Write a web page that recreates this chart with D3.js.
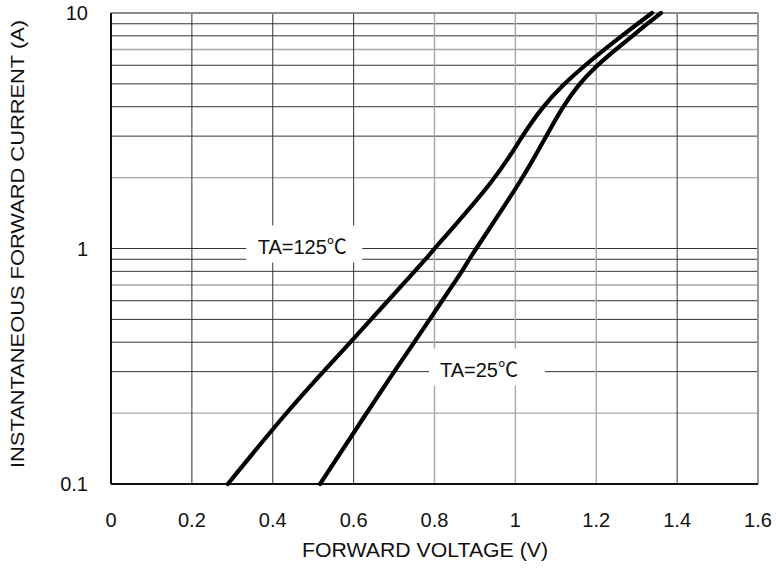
<!DOCTYPE html>
<html>
<head>
<meta charset="utf-8">
<script src="https://cdn.jsdelivr.net/npm/d3@7"></script>
<style>
    body { margin: 0; background: white; }
    text { font-family: "Liberation Sans", Arial, "Noto Sans CJK SC", sans-serif; fill: #111; }
</style>
</head>
<body>
<script>
// forward current (A) points
var current = [0.1, 0.2, 0.3, 0.4, 0.5, 0.6, 0.7, 0.8, 0.9, 1, 2, 3, 4, 5, 6, 7, 8, 9, 10]
// forward voltage (V) for each curve at those currents
var vf125 = [0.289, 0.432, 0.525, 0.592, 0.643, 0.685, 0.720, 0.751, 0.778, 0.800, 0.955, 1.016, 1.067, 1.120, 1.172, 1.220, 1.263, 1.302, 1.338]
var vf25 = [0.517, 0.632, 0.700, 0.750, 0.788, 0.819, 0.845, 0.868, 0.886, 0.903, 1.020, 1.076, 1.117, 1.157, 1.202, 1.248, 1.290, 1.326, 1.360]

var xTicks = [0, 0.2, 0.4, 0.6, 0.8, 1, 1.2, 1.4, 1.6]
var yTicks = [0.1, 1, 10]
// gridlines drawn lighter in the original
var lightX = [0.8, 1, 1.2]
var lightMult = [2, 7]

var labels = [
    {text: "TA=125\u2103", v: 0.473, i: 1},
    {text: "TA=25\u2103", v: 0.910, i: 0.3}
]

var width = 776
var height = 570

var svg = d3.select("body")
    .append("svg")
    .attr("width", width)
    .attr("height", height)

var xScale = d3.scaleLinear()
    .domain([0, 1.6])
    .range([111, 758])
var yScale = d3.scaleLog()
    .domain([0.1, 10])
    .range([484, 13])

// horizontal grid, every 1..9 of each decade
var hLines = []
for (var d = 0.1; d < 10; d *= 10) {
    for (var m = 1; m <= 10; m++) {
        hLines.push({value: +(d * m).toPrecision(3), light: lightMult.indexOf(m) >= 0})
    }
}
svg.selectAll(".hgrid")
    .data(hLines)
    .enter()
    .append("line")
    .attr("class", "hgrid")
    .attr("x1", xScale(0))
    .attr("x2", xScale(1.6))
    .attr("y1", function(d) { return yScale(d.value) })
    .attr("y2", function(d) { return yScale(d.value) })
    .style("stroke", function(d) { return d.light ? "#a8a8a8" : "#333" })
    .style("stroke-width", function(d) { return d.light ? 1.4 : 1 })

svg.selectAll(".vgrid")
    .data(xTicks.slice(1, -1))
    .enter()
    .append("line")
    .attr("class", "vgrid")
    .attr("x1", function(d) { return xScale(d) })
    .attr("x2", function(d) { return xScale(d) })
    .attr("y1", yScale(10))
    .attr("y2", yScale(0.1))
    .style("stroke", function(d) { return lightX.indexOf(d) >= 0 ? "#a8a8a8" : "#333" })
    .style("stroke-width", function(d) { return lightX.indexOf(d) >= 0 ? 1.4 : 1 })

// frame: grey top and right, black axes
svg.append("line")
    .attr("x1", xScale(0)).attr("x2", xScale(1.6))
    .attr("y1", yScale(10)).attr("y2", yScale(10))
    .style("stroke", "#8a8a8a").style("stroke-width", 2)
svg.append("line")
    .attr("x1", xScale(1.6)).attr("x2", xScale(1.6))
    .attr("y1", yScale(10)).attr("y2", yScale(0.1))
    .style("stroke", "#9a9a9a").style("stroke-width", 2)

// white boxes behind the labels knock out the grid
var boxShift = [2, 8]
labels.forEach(function(l, k) {
    var w = 116
    svg.append("rect")
        .attr("x", xScale(l.v) + boxShift[k] - w / 2)
        .attr("y", yScale(l.i) - 23)
        .attr("width", w)
        .attr("height", 37)
        .style("fill", "white")
})

svg.append("line")
    .attr("x1", xScale(0)).attr("x2", xScale(0))
    .attr("y1", yScale(10)).attr("y2", yScale(0.1))
    .style("stroke", "#111").style("stroke-width", 2)
svg.append("line")
    .attr("x1", xScale(0)).attr("x2", xScale(1.6))
    .attr("y1", yScale(0.1)).attr("y2", yScale(0.1))
    .style("stroke", "#111").style("stroke-width", 2)

// the two curves
var line = d3.line()
    .x(function(d) { return xScale(d[0]) })
    .y(function(d) { return yScale(d[1]) })
    .curve(d3.curveBasis)

var series = [vf125, vf25]
series.forEach(function(vf) {
    var pts = vf.map(function(v, i) { return [v, current[i]] })
    svg.append("path")
        .datum(pts)
        .attr("d", line)
        .style("fill", "none")
        .style("stroke", "#000")
        .style("stroke-width", 4.2)
        .style("stroke-linecap", "round")
})

labels.forEach(function(l) {
    svg.append("text")
        .attr("x", xScale(l.v))
        .attr("y", yScale(l.i) + 5)
        .style("text-anchor", "middle")
        .style("font-size", "20px")
        .text(l.text)
})

// tick labels
svg.selectAll(".xlab")
    .data(xTicks)
    .enter()
    .append("text")
    .attr("class", "xlab")
    .attr("x", function(d) { return xScale(d) })
    .attr("y", 527)
    .style("text-anchor", "middle")
    .style("font-size", "20px")
    .text(function(d) { return d })

svg.selectAll(".ylab")
    .data(yTicks)
    .enter()
    .append("text")
    .attr("class", "ylab")
    .attr("x", 88)
    .attr("y", function(d) { return yScale(d) + 7 })
    .style("text-anchor", "end")
    .style("font-size", "20px")
    .text(function(d) { return d })

// axis titles
svg.append("text")
    .attr("x", 425)
    .attr("y", 557)
    .style("text-anchor", "middle")
    .style("font-size", "20px")
    .attr("textLength", 246)
    .attr("lengthAdjust", "spacingAndGlyphs")
    .text("FORWARD VOLTAGE (V)")

svg.append("text")
    .attr("transform", "translate(24,244) rotate(-90)")
    .style("text-anchor", "middle")
    .style("font-size", "19px")
    .attr("textLength", 448)
    .attr("lengthAdjust", "spacingAndGlyphs")
    .text("INSTANTANEOUS FORWARD CURRENT (A)")
</script>
</body>
</html>
